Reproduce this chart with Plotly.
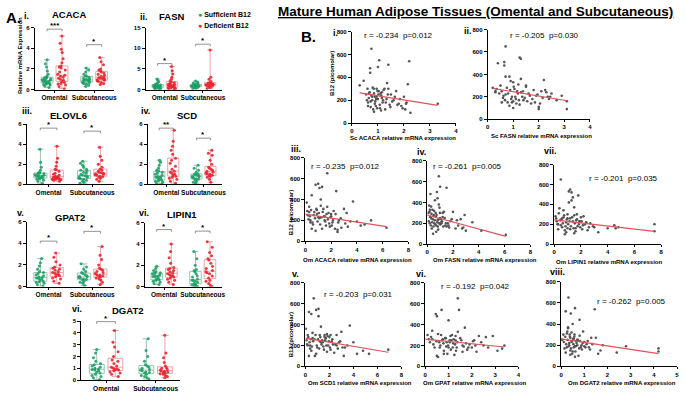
import plotly.graph_objects as go
import numpy as np

# ---------------- DATA ----------------
cats = ["Omental", "Subcutaneous"]

ACACA_om_suf = [0.2,0.35,0.45,0.5,0.55,0.6,0.65,0.7,0.75,0.8,0.8,0.85,0.9,0.95,1.0,1.05,1.1,1.15,1.2,1.3,1.5,1.8,2.2,2.5,2.9]
ACACA_om_def = [0.1,0.3,0.45,0.55,0.6,0.7,0.8,0.9,1.0,1.1,1.2,1.3,1.4,1.5,1.7,1.9,2.1,2.2,2.3,2.6,3.0,3.6,3.9,4.5,5.2]
ACACA_sc_suf = [0.3,0.45,0.55,0.6,0.65,0.7,0.75,0.8,0.85,0.9,0.9,0.95,1.0,1.05,1.1,1.2,1.3,1.35,1.5,1.7,1.9,2.1]
ACACA_sc_def = [0.5,0.6,0.7,0.8,0.85,0.9,0.95,1.0,1.05,1.1,1.15,1.2,1.3,1.4,1.5,1.6,1.7,1.8,1.9,2.0,2.4,2.7,3.1]

FASN_om_suf = [0.1,0.2,0.3,0.4,0.5,0.55,0.6,0.65,0.7,0.75,0.8,0.85,0.9,0.95,1.0,1.1,1.2,1.3,1.4,1.6,1.9,2.3,2.6]
FASN_om_def = [0.1,0.2,0.3,0.4,0.5,0.6,0.7,0.8,0.9,1.0,1.0,1.1,1.2,1.3,1.5,1.7,1.8,2.1,2.5,3.0,3.8,4.6,5.6]
FASN_sc_suf = [0.2,0.35,0.5,0.6,0.7,0.75,0.8,0.85,0.9,0.95,1.0,1.05,1.1,1.2,1.3,1.4,1.6,1.8,2.1]
FASN_sc_def = [0.3,0.5,0.7,0.8,0.9,1.0,1.1,1.2,1.2,1.3,1.4,1.5,1.6,1.7,1.7,2.0,2.5,3.0,9.6]

ELOVL6_om_suf = [0.1,0.3,0.4,0.5,0.55,0.6,0.65,0.7,0.75,0.8,0.8,0.85,0.9,0.95,1.0,1.05,1.1,1.15,1.2,1.4,1.7,2.2,3.5]
ELOVL6_om_def = [0.3,0.4,0.45,0.5,0.5,0.55,0.6,0.6,0.65,0.7,0.75,0.8,0.9,1.0,1.1,1.3,1.45,1.5,1.8,2.2,2.6,3.8]
ELOVL6_sc_suf = [0.1,0.2,0.3,0.4,0.5,0.55,0.6,0.7,0.75,0.8,0.85,0.9,1.0,1.1,1.2,1.3,1.4,1.5,1.7,1.9,2.1,2.3]
ELOVL6_sc_def = [0.3,0.5,0.6,0.7,0.75,0.8,0.9,0.95,1.0,1.05,1.1,1.15,1.2,1.3,1.4,1.5,1.7,2.0,2.4,2.8,3.7]

SCD_om_suf = [0.05,0.1,0.2,0.3,0.35,0.4,0.5,0.6,0.65,0.7,0.75,0.8,0.9,1.0,1.1,1.2,1.3,1.4,1.6,1.9,2.2,2.4]
SCD_om_def = [0.1,0.3,0.5,0.6,0.7,0.8,0.9,1.0,1.1,1.2,1.3,1.5,1.8,2.1,2.4,2.6,3.0,3.4,3.8,4.3,5.4]
SCD_sc_suf = [0.1,0.2,0.3,0.4,0.5,0.55,0.6,0.7,0.75,0.8,0.85,0.9,0.95,1.0,1.05,1.2,1.4,1.6,1.9]
SCD_sc_def = [0.2,0.5,0.7,0.8,0.85,0.9,1.0,1.05,1.1,1.2,1.3,1.4,1.5,1.6,1.7,2.0,2.4,2.9,3.1,3.4]

GPAT2_om_suf = [0.05,0.2,0.3,0.4,0.45,0.5,0.6,0.7,0.75,0.8,0.85,0.9,1.0,1.1,1.2,1.3,1.4,1.6,1.9,2.2,2.6]
GPAT2_om_def = [0.3,0.5,0.7,0.8,0.9,1.0,1.1,1.15,1.2,1.3,1.4,1.5,1.6,1.7,1.8,2.0,2.3,2.7,3.1]
GPAT2_sc_suf = [0.1,0.3,0.4,0.5,0.6,0.65,0.7,0.8,0.85,0.9,0.95,1.0,1.1,1.2,1.3,1.4,1.6,1.8,2.1]
GPAT2_sc_def = [0.2,0.4,0.6,0.7,0.8,0.9,0.95,1.0,1.05,1.1,1.2,1.3,1.4,1.5,1.6,1.7,2.0,2.5,2.9,3.7]

LIPIN1_om_suf = [0.2,0.3,0.4,0.5,0.6,0.65,0.7,0.8,0.9,0.95,1.0,1.05,1.1,1.2,1.25,1.3,1.4,1.5,1.7,1.9]
LIPIN1_om_def = [0.2,0.4,0.6,0.7,0.8,0.9,1.0,1.05,1.1,1.2,1.3,1.4,1.5,1.6,1.7,1.8,2.2,2.7,3.3,4.0]
LIPIN1_sc_suf = [0.0,0.05,0.1,0.15,0.2,0.3,0.4,0.5,0.6,0.6,0.7,0.9,1.0,1.2,1.4,1.5,1.6,2.0,2.6,3.3]
LIPIN1_sc_def = [0.0,0.1,0.3,0.5,0.6,0.8,1.0,1.2,1.3,1.4,1.5,1.7,1.9,2.2,2.5,2.6,2.9,3.2,3.7,4.2]

DGAT2_om_suf = [0.05,0.2,0.3,0.4,0.5,0.6,0.7,0.8,0.85,0.9,0.95,1.0,1.1,1.2,1.3,1.4,1.6,1.9,2.3,2.6]
DGAT2_om_def = [0.3,0.5,0.6,0.7,0.8,0.85,0.9,0.95,1.0,1.1,1.2,1.4,1.6,1.7,2.0,2.4,2.8,3.2,4.2]
DGAT2_sc_suf = [0.1,0.2,0.3,0.4,0.5,0.6,0.65,0.7,0.8,0.85,0.9,1.0,1.1,1.2,1.3,1.6,2.0,2.5,3.5]
DGAT2_sc_def = [0.2,0.3,0.4,0.5,0.55,0.6,0.65,0.7,0.75,0.8,0.85,0.9,1.0,1.05,1.2,1.5,1.9,2.3,3.8]

# scatter: B12 (pmol) vs relative mRNA expression
sc_acaca_x = [0.30,0.45,0.55,0.60,0.62,0.65,0.68,0.70,0.72,0.75,
              0.78,0.80,0.82,0.85,0.88,0.90,0.92,0.95,0.98,1.00,
              1.02,1.05,1.08,1.10,1.12,1.15,1.20,1.25,1.30,1.35,
              1.40,1.45,1.50,1.60,1.70,1.80,1.90,2.00,2.05,2.10,
              2.15,2.20,2.25,3.30,0.70,0.75,1.00,1.40,0.85,1.15,
              0.62,0.66,0.72,0.78,0.84,0.88,0.93,0.97,1.03,1.07,
              1.13,1.18,1.22,1.28,1.33,1.38,1.48,1.55,1.65,1.75,
              1.85,1.95,2.08,0.58,0.95]
sc_acaca_y = [330,370,250,300,180,220,270,480,140,650,
              200,310,120,260,230,190,150,300,280,210,
              250,550,130,260,110,220,200,300,180,350,
              510,160,250,200,280,170,150,230,120,180,
              340,540,90,170,440,240,490,300,100,270,
              150,260,190,230,300,170,210,130,280,160,
              240,180,290,120,210,250,140,190,230,160,
              210,130,170,200,230]
sc_fasn_x = [0.20,0.30,0.40,0.50,0.55,0.60,0.65,0.70,0.70,0.75,
             0.80,0.85,0.90,0.95,1.00,1.00,1.05,1.10,1.15,1.20,
             1.25,1.30,1.30,1.35,1.40,1.50,1.60,1.70,1.80,1.90,
             2.00,2.00,2.10,2.20,2.30,2.35,2.40,2.50,2.70,2.90,
             3.10,3.10,0.65,0.70,1.25,1.30,0.30,0.95,0.85,1.50,
             0.35,0.45,0.62,0.68,0.78,0.88,0.92,1.02,1.08,1.12,
             1.18,1.22,1.38,1.45,1.55,1.65,1.75,1.85,1.95,2.05,
             2.15,2.25,2.45,0.55,1.00]
sc_fasn_y = [280,240,500,300,150,190,480,650,220,280,
             230,120,340,200,160,100,270,180,250,310,
             130,540,240,200,170,290,230,140,260,210,
             110,90,250,350,240,200,180,230,170,210,
             160,90,510,380,550,360,250,150,380,300,
             270,230,210,170,150,260,180,290,200,140,
             230,170,250,190,160,210,180,150,220,140,
             190,260,200,250,330]
om_acaca_x = [0.10,0.20,0.30,0.40,0.50,0.60,0.70,0.80,0.90,1.00,
              1.00,1.10,1.20,1.30,1.40,1.50,1.60,1.70,1.80,1.90,
              2.00,2.10,2.20,2.30,2.40,2.50,2.60,2.80,3.00,3.10,
              3.20,3.50,3.70,4.00,4.30,4.60,5.10,6.30,0.80,1.20,
              1.30,1.70,0.50,2.50,0.90,1.10,0.40,0.30,2.00,1.50,
              0.15,0.25,0.35,0.45,0.55,0.65,0.75,0.85,0.95,1.05,
              1.15,1.25,1.35,1.45,1.55,1.65,1.75,1.85,1.95,2.05,
              2.15,2.35,2.55,2.75,3.30]
om_acaca_y = [370,250,330,200,440,160,280,100,260,230,
              550,510,340,120,310,200,150,650,270,140,
              240,180,290,120,480,90,200,130,310,170,
              270,190,380,190,150,160,200,130,540,400,
              520,330,120,110,300,220,180,280,260,240,
              290,210,240,300,180,250,220,310,190,270,
              160,230,280,240,190,260,210,170,230,150,
              200,260,180,220,140]
om_fasn_x = [0.10,0.15,0.20,0.25,0.30,0.35,0.40,0.45,0.50,0.55,
             0.60,0.65,0.70,0.75,0.80,0.85,0.90,0.95,1.00,1.05,
             1.10,1.20,1.30,1.40,1.50,1.60,1.70,1.80,2.00,2.20,
             2.40,2.60,2.80,2.90,3.00,3.50,4.20,6.10,0.80,0.90,
             1.00,1.50,0.70,1.20,2.30,0.30,0.50,1.10,2.70,0.20,
             0.12,0.18,0.22,0.28,0.33,0.38,0.42,0.48,0.52,0.58,
             0.62,0.68,0.72,0.78,0.82,0.88,0.92,0.98,1.02,1.15,
             1.25,1.35,1.45,1.65,1.90]
om_fasn_y = [300,370,200,480,250,150,330,100,270,200,
             420,300,180,500,230,140,650,350,550,240,
             210,260,310,180,540,200,160,220,310,150,
             180,240,160,280,130,210,130,90,440,380,
             250,170,120,300,230,360,280,200,150,330,
             220,310,260,180,290,210,240,170,320,230,
             190,260,280,210,170,240,200,300,190,220,
             170,250,200,180,240]
om_lipin1_x = [0.10,0.20,0.30,0.40,0.50,0.55,0.60,0.70,0.80,0.90,
               1.00,1.10,1.20,1.25,1.30,1.40,1.50,1.60,1.70,1.80,
               1.90,2.00,2.10,2.30,2.50,2.70,2.90,3.00,3.30,4.00,
               4.50,4.60,4.80,7.50,7.50,0.35,1.10,1.30,1.40,1.20,
               0.80,0.60,1.00,1.60,1.90,2.20,0.50,1.50,1.70,0.30,
               0.15,0.25,0.45,0.65,0.75,0.85,0.95,1.05,1.15,1.35,
               1.45,1.55,1.65,1.75,1.85,1.95,2.05,2.15,2.40,2.60,
               0.70,0.90,1.20,1.50,1.00]
om_lipin1_y = [280,230,200,360,650,250,170,270,140,220,
               300,530,550,180,440,230,370,160,300,490,
               230,270,150,200,140,210,180,170,120,160,
               190,160,170,200,130,310,420,520,470,260,
               100,260,160,130,230,280,190,290,250,150,
               260,200,240,210,290,180,250,200,230,270,
               160,210,240,180,200,170,230,190,220,170,
               340,120,150,110,260]
om_scd1_x = [0.05,0.10,0.20,0.30,0.40,0.50,0.60,0.70,0.80,0.90,
             1.00,1.10,1.20,1.30,1.40,1.50,1.60,1.70,1.80,1.90,
             2.00,2.10,2.20,2.30,2.40,2.60,2.80,3.00,3.10,3.20,
             3.50,3.70,4.00,4.30,4.80,5.30,6.90,0.30,0.75,1.10,
             1.30,0.50,1.60,0.20,2.10,0.90,2.60,1.20,0.40,1.80,
             0.15,0.25,0.35,0.45,0.55,0.65,0.85,0.95,1.05,1.15,
             1.25,1.35,1.45,1.55,1.65,1.75,1.85,1.95,2.05,2.25,
             2.50,2.70,2.90,3.30,0.60]
om_scd1_y = [360,250,300,520,200,150,270,650,100,540,
             180,480,300,230,250,190,300,270,310,200,
             280,160,240,210,130,300,230,330,180,100,
             200,390,230,120,150,120,160,100,260,550,
             380,500,280,200,300,120,200,240,170,140,
             210,280,230,260,190,240,300,200,260,170,
             280,210,230,160,250,200,290,240,180,260,
             210,170,240,180,320]
om_gpat_x = [0.10,0.20,0.30,0.40,0.45,0.50,0.55,0.60,0.65,0.70,
             0.75,0.80,0.85,0.90,0.95,1.00,1.05,1.10,1.15,1.20,
             1.25,1.30,1.35,1.40,1.45,1.50,1.60,1.70,1.80,1.90,
             2.00,2.10,2.20,2.30,2.50,2.70,2.90,3.10,3.30,3.40,
             0.50,0.55,1.05,1.40,1.30,1.00,0.30,0.80,1.60,2.60,
             0.15,0.25,0.35,0.48,0.62,0.68,0.72,0.78,0.88,0.92,
             0.98,1.08,1.12,1.18,1.22,1.28,1.32,1.38,1.55,1.65,
             1.75,1.85,2.05,2.15,2.40]
om_gpat_y = [300,230,340,180,500,100,310,230,200,540,
             260,150,270,190,120,440,250,160,300,220,
             110,290,180,650,540,270,200,370,160,210,
             180,250,140,290,200,180,290,150,170,200,
             480,90,230,330,250,180,260,120,140,280,
             260,280,210,240,180,300,250,220,270,230,
             200,290,250,180,260,210,150,230,250,190,
             220,180,240,200,230]
om_dgat2_x = [0.05,0.10,0.15,0.20,0.25,0.30,0.32,0.35,0.38,0.40,
              0.42,0.45,0.48,0.50,0.52,0.55,0.58,0.60,0.62,0.65,
              0.70,0.75,0.80,0.85,0.90,0.95,1.00,1.10,1.20,1.30,
              1.45,1.50,1.70,1.80,2.40,2.80,4.20,4.20,0.30,0.40,
              0.25,0.55,0.60,0.35,0.45,1.00,0.70,0.20,0.80,1.60,
              0.12,0.18,0.22,0.28,0.33,0.37,0.43,0.47,0.53,0.57,
              0.63,0.67,0.72,0.78,0.82,0.88,0.93,1.05,1.15,1.25,
              1.35,0.27,0.50,0.60,0.40]
om_dgat2_y = [250,300,170,520,180,360,650,200,280,150,
              500,230,120,400,260,180,300,550,140,240,
              200,100,290,180,160,330,230,210,180,270,
              540,270,150,200,130,190,170,140,370,110,
              310,260,90,220,320,190,250,130,440,120,
              230,280,210,250,190,300,170,240,210,280,
              190,220,250,170,240,200,220,180,240,160,
              210,330,140,190,270]

# regression line end points
fit_sc_acaca = ([0.3, 3.3], [265, 155])
fit_sc_fasn = ([0.2, 3.1], [275, 165])
fit_om_acaca = ([0.0, 6.3], [260, 140])
fit_om_fasn = ([0.0, 6.1], [280, 75])
fit_om_lipin1 = ([0.0, 7.5], [245, 130])
fit_om_scd1 = ([0.0, 6.9], [270, 135])
fit_om_gpat = ([0.0, 3.4], [260, 185])
fit_om_dgat2 = ([0.0, 4.2], [260, 120])

stats_text = ["r = -0.234  p=0.012", "r = -0.205  p=0.030", "r = -0.235  p=0.012",
              "r = -0.261  p=0.005", "r = -0.201  p=0.035", "r = -0.203  p=0.031",
              "r = -0.192  p=0.042", "r = -0.262  p=0.005"]

# ---------------- FIGURE ----------------
W, H = 685, 394
FONT = "Liberation Sans"
GREEN = "#1f9e68"
RED = "#e8252f"
GBOX = "#8fbfa6"
RBOX = "#e89aa3"


def px(x):
    return x / W


def py(y):
    return 1 - y / H


fig = go.Figure()
layout_axes = {}
annotations = []
shapes = []

common = dict(showline=True, linecolor="black", linewidth=1, ticks="outside", ticklen=3,
              tickwidth=1, tickcolor="black", showgrid=False, zeroline=False, fixedrange=True,
              tickfont=dict(family=FONT, size=6, color="black", weight="bold"))


def ax_names(n):
    s = "" if n == 1 else str(n)
    return "x" + s, "y" + s, "xaxis" + s, "yaxis" + s


def text(x, y, t, size, bold=True, xanchor="center", yanchor="middle", angle=0):
    annotations.append(dict(xref="paper", yref="paper", x=px(x), y=py(y), text=t,
                            showarrow=False, xanchor=xanchor, yanchor=yanchor, textangle=angle,
                            font=dict(family=FONT, size=size, color="black",
                                      weight="bold" if bold else "normal")))


# box panels
box_panels = [
    dict(name="ACACA", num="i.", d=(ACACA_om_suf, ACACA_om_def, ACACA_sc_suf, ACACA_sc_def),
         ymax=6, dtick=2, box=(33, 113, 25, 88), title=(68, 12), nump=(25, 13),
         br=[(0, 5.85, "***"), (1, 4.35, "*")]),
    dict(name="FASN", num="ii.", d=(FASN_om_suf, FASN_om_def, FASN_sc_suf, FASN_sc_def),
         ymax=15, dtick=5, box=(145, 222, 25, 88), title=(171, 14), nump=(143, 14),
         br=[(0, 6.3, "*"), (1, 11.0, "*")]),
    dict(name="ELOVL6", num="iii.", d=(ELOVL6_om_suf, ELOVL6_om_def, ELOVL6_sc_suf, ELOVL6_sc_def),
         ymax=6, dtick=2, box=(25, 113, 123, 184), title=(67, 114), nump=(25, 110),
         br=[(0, 5.6, "*"), (1, 5.3, "*")]),
    dict(name="SCD", num="iv.", d=(SCD_om_suf, SCD_om_def, SCD_sc_suf, SCD_sc_def),
         ymax=6, dtick=2, box=(147, 222, 123, 184), title=(187, 114), nump=(145, 110),
         br=[(0, 5.6, "**"), (1, 4.6, "*")]),
    dict(name="GPAT2", num="v.", d=(GPAT2_om_suf, GPAT2_om_def, GPAT2_sc_suf, GPAT2_sc_def),
         ymax=6, dtick=2, box=(25, 113, 222, 288), title=(69, 218), nump=(19, 213),
         br=[(0, 4.2, "*"), (1, 5.1, "*")]),
    dict(name="LIPIN1", num="vi.", d=(LIPIN1_om_suf, LIPIN1_om_def, LIPIN1_sc_suf, LIPIN1_sc_def),
         ymax=6, dtick=2, box=(144, 222, 223, 288), title=(182, 215), nump=(143, 213),
         br=[(0, 5.35, "*"), (1, 5.2, "*")]),
    dict(name="DGAT2", num="vi.", d=(DGAT2_om_suf, DGAT2_om_def, DGAT2_sc_suf, DGAT2_sc_def),
         ymax=5, dtick=1, box=(80, 180, 323, 383), title=(127, 312), nump=(76, 311),
         br=[(0, 4.95, "*")]),
]

OFF = 0.19
n = 0
for p in box_panels:
    n += 1
    xa, ya, xk, yk = ax_names(n)
    om_s, om_d, sc_s, sc_d = p["d"]
    for grp, arrs, col, bcol in (("suf", (om_s, sc_s), GREEN, GBOX), ("def", (om_d, sc_d), RED, RBOX)):
        # box (min-max whiskers)
        fig.add_trace(go.Box(
            x=cats, q1=[np.percentile(a, 25) for a in arrs], median=[np.median(a) for a in arrs],
            q3=[np.percentile(a, 75) for a in arrs], lowerfence=[min(a) for a in arrs],
            upperfence=[max(a) for a in arrs], boxpoints=False, offsetgroup=grp,
            line=dict(color=bcol, width=0.9), fillcolor="rgba(0,0,0,0)", whiskerwidth=0.5,
            xaxis=xa, yaxis=ya, showlegend=False, hoverinfo="skip"))
        # points
        xs = [cats[0]] * len(arrs[0]) + [cats[1]] * len(arrs[1])
        fig.add_trace(go.Box(
            x=xs, y=list(arrs[0]) + list(arrs[1]), boxpoints="all", jitter=0.85, pointpos=0,
            offsetgroup=grp, line=dict(width=0, color="rgba(0,0,0,0)"), fillcolor="rgba(0,0,0,0)",
            marker=dict(color=col, size=3, opacity=0.9), xaxis=xa, yaxis=ya, showlegend=False))
    x0, x1, yt, yb = p["box"]
    layout_axes[xk] = dict(common, domain=[px(x0), px(x1)], anchor=ya, type="category",
                           categoryorder="array", categoryarray=cats, range=[-0.5, 1.5], ticklen=2,
                           tickangle=0,
                           tickfont=dict(family=FONT, size=6.5, color="black", weight="bold"))
    layout_axes[yk] = dict(common, domain=[py(yb), py(yt)], anchor=xa, range=[0, p["ymax"]],
                           tickmode="linear", tick0=0, dtick=p["dtick"])
    text(p["title"][0], p["title"][1], p["name"], 9.5)
    text(p["nump"][0], p["nump"][1], p["num"], 9)
    leg = p["ymax"] * 0.035
    for ci, yv, stars in p["br"]:
        a, b = ci - OFF, ci + OFF
        for (sx0, sy0, sx1, sy1) in ((a, yv, b, yv), (a, yv, a, yv - leg), (b, yv, b, yv - leg)):
            shapes.append(dict(type="line", xref=xa, yref=ya, x0=sx0, y0=sy0, x1=sx1, y1=sy1,
                               line=dict(color="#777777", width=0.8)))
        annotations.append(dict(xref=xa, yref=ya, x=ci, y=yv, text=stars, showarrow=False,
                                yanchor="bottom", yshift=-3,
                                font=dict(family=FONT, size=8, color="black", weight="bold")))

# scatter panels
sc_panels = [
    dict(x=sc_acaca_x, y=sc_acaca_y, fit=fit_sc_acaca, xmax=4, dtick=1, box=(353, 458, 29, 122),
         num="i.", nump=(336, 30), st=(400, 33), xl="Sc ACACA relative mRNA expression", xlp=(405, 137)),
    dict(x=sc_fasn_x, y=sc_fasn_y, fit=fit_sc_fasn, xmax=4, dtick=1, box=(490, 593, 27, 118),
         num="ii.", nump=(470, 28), st=(547, 33), xl="Sc FASN relative mRNA expression", xlp=(544, 135)),
    dict(x=om_acaca_x, y=om_acaca_y, fit=fit_om_acaca, xmax=8, dtick=2, box=(306, 410, 157, 242),
         num="iii.", nump=(297, 148), st=(347, 166), xl="Om ACACA relative mRNA expression", xlp=(359, 261)),
    dict(x=om_fasn_x, y=om_fasn_y, fit=fit_om_fasn, xmax=8, dtick=2, box=(429, 533, 160, 245),
         num="iv.", nump=(423, 151), st=(470, 166), xl="Om FASN relative mRNA expression", xlp=(487, 261)),
    dict(x=om_lipin1_x, y=om_lipin1_y, fit=fit_om_lipin1, xmax=8, dtick=2, box=(557, 665, 164, 245),
         num="vii.", nump=(553, 150), st=(627, 178), xl="Om LIPIN1 relative mRNA expression", xlp=(612, 263)),
    dict(x=om_scd1_x, y=om_scd1_y, fit=fit_om_scd1, xmax=8, dtick=2, box=(306, 403, 284, 369),
         num="v.", nump=(296, 275), st=(360, 296), xl="Om SCD1 relative mRNA expression", xlp=(361, 386)),
    dict(x=om_gpat_x, y=om_gpat_y, fit=fit_om_gpat, xmax=4, dtick=1, box=(427, 521, 284, 369),
         num="vi.", nump=(423, 275), st=(478, 288), xl="Om GPAT relative mRNA expression", xlp=(477, 386)),
    dict(x=om_dgat2_x, y=om_dgat2_y, fit=fit_om_dgat2, xmax=5, dtick=1, box=(564, 681, 283, 369),
         num="viii.", nump=(560, 273), st=(635, 303), xl="Om DGAT2 relative mRNA expression", xlp=(625, 386)),
]

for i, p in enumerate(sc_panels):
    n += 1
    xa, ya, xk, yk = ax_names(n)
    fig.add_trace(go.Scatter(x=p["x"], y=p["y"], mode="markers", xaxis=xa, yaxis=ya, showlegend=False,
                             marker=dict(color="#555555", size=2.6)))
    fig.add_trace(go.Scatter(x=p["fit"][0], y=p["fit"][1], mode="lines", xaxis=xa, yaxis=ya,
                             showlegend=False, line=dict(color="#e2535b", width=1.2)))
    x0, x1, yt, yb = p["box"]
    layout_axes[xk] = dict(common, domain=[px(x0), px(x1)], anchor=ya, range=[0, p["xmax"]],
                           tickmode="linear", tick0=0, dtick=p["dtick"], ticklen=2)
    layout_axes[yk] = dict(common, domain=[py(yb), py(yt)], anchor=xa, range=[0, 800],
                           tickmode="linear", tick0=0, dtick=200)
    text(p["nump"][0], p["nump"][1], p["num"], 9)
    text(p["st"][0], p["st"][1], stats_text[i], 8, bold=False)
    text(p["xlp"][0], p["xlp"][1], p["xl"], 6)

# axis titles
text(18, 53, "Relative mRNA Expression", 6, angle=-90)
text(333, 72, "B12 (picomolar)", 6, angle=-90)
text(291, 213, "B12 (picomolar)", 6, angle=-90)
text(291, 337, "B12 (picomolar)", 6, angle=-90)

# headings
text(478, 9, "<u>Mature Human Adipose Tissues (Omental and Subcutaneous)</u>", 13.5)
text(2, 15, "A.", 15, xanchor="left")
text(300, 34, "B.", 15, xanchor="left")

# legend (manual)
text(196, 12, f"<span style='color:{GREEN}'>●</span> Sufficient B12", 7, xanchor="left")
text(196, 23, f"<span style='color:{RED}'>●</span> Deficient B12", 7, xanchor="left")

fig.update_layout(width=W, height=H, margin=dict(l=0, r=0, t=0, b=0),
                  paper_bgcolor="white", plot_bgcolor="white", boxmode="group",
                  boxgap=0.25, boxgroupgap=0.2, showlegend=False,
                  annotations=annotations, shapes=shapes,
                  font=dict(family=FONT, color="black"), **layout_axes)

fig.write_html("out.html", config={"displayModeBar": False},
               post_script="document.body.style.margin='0';document.body.style.overflow='hidden';")
